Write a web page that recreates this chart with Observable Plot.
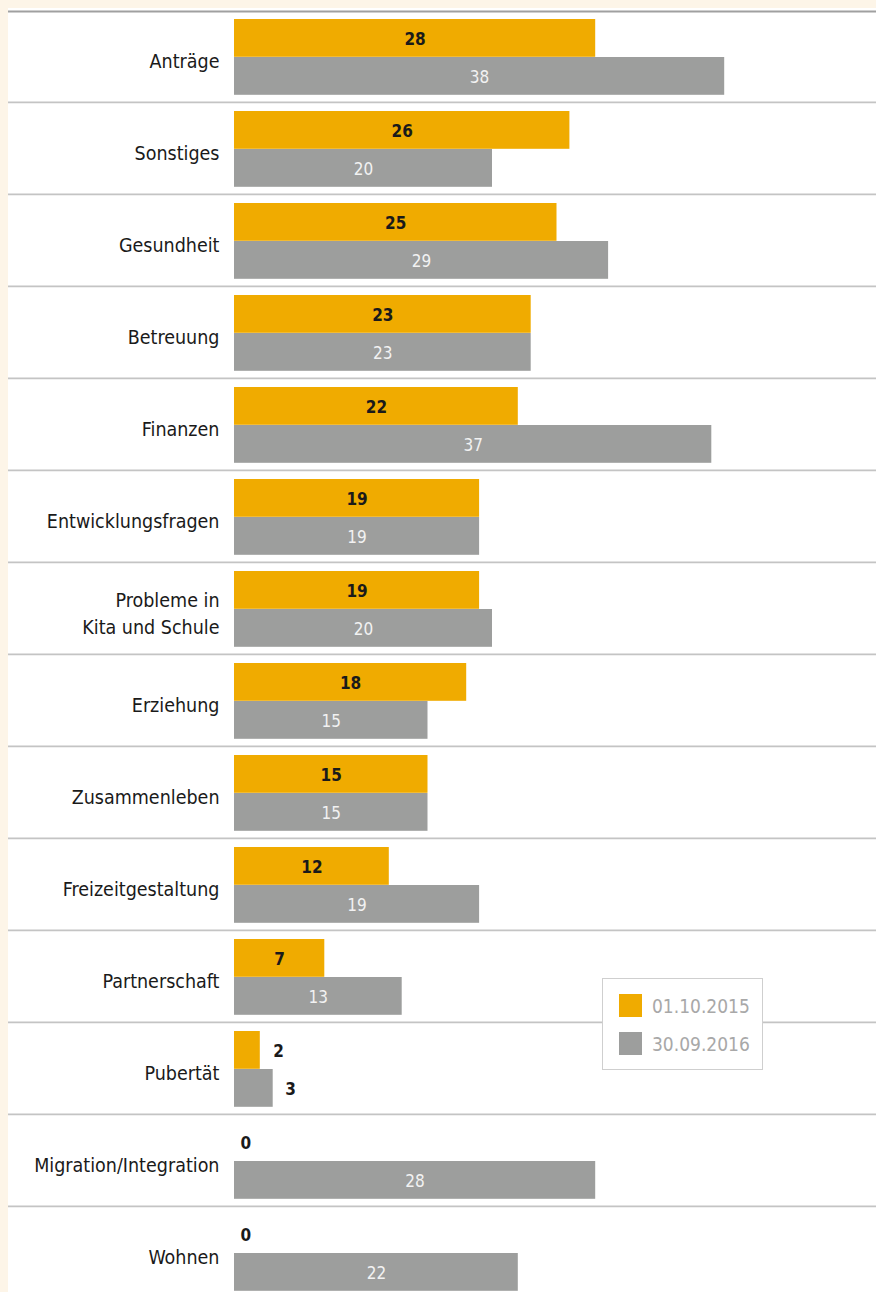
<!DOCTYPE html>
<html>
<head>
<meta charset="utf-8">
<script src="https://cdn.jsdelivr.net/npm/d3@7"></script>
<script src="https://cdn.jsdelivr.net/npm/@observablehq/plot@0.6"></script>
<style>
  html, body { margin: 0; padding: 0; background: #fdf5e8; overflow: hidden; width: 876px; height: 1292px; }
  #wrap { position: absolute; left: 8px; top: 8px; width: 868px; height: 1284px; background: #fff; overflow: hidden; }
  #legend { position: absolute; left: 594px; top: 970px; width: 159px; height: 90px; background: #fff; border: 1.5px solid #cfcfcf;
    font-family: "DejaVu Sans Condensed", sans-serif; font-stretch: condensed; font-size: 19px; color: #a8a8a8; }
  .item { position: absolute; left: 16px; height: 24px; line-height: 24px; white-space: nowrap; }
  .sw { display: inline-block; width: 23px; height: 23px; vertical-align: top; margin-right: 10px; }
</style>
</head>
<body>
<div id="wrap"></div>
<script>
const categories = ["Anträge", "Sonstiges", "Gesundheit", "Betreuung", "Finanzen", "Entwicklungsfragen",
  "Probleme in\nKita und Schule", "Erziehung", "Zusammenleben", "Freizeitgestaltung", "Partnerschaft",
  "Pubertät", "Migration/Integration", "Wohnen"];
const values2015 = [28, 26, 25, 23, 22, 19, 19, 18, 15, 12, 7, 2, 0, 0];
const values2016 = [38, 20, 29, 23, 37, 19, 20, 15, 15, 19, 13, 3, 28, 22];
const seriesLabels = ["01.10.2015", "30.09.2016"];
const colors = ["#f0ab00", "#9d9e9d"];

const d15 = categories.map((c, i) => ({cat: c, value: values2015[i]}));
const d16 = categories.map((c, i) => ({cat: c, value: values2016[i]}));

const font = '"DejaVu Sans Condensed", sans-serif';
const rowH = 92.2;
const W = 868, H = 1284;
const x0 = 226, k = 12.9;

const inside = 5;
const chart = Plot.plot({
  width: W, height: H,
  marginLeft: 0, marginRight: 0, marginTop: 0, marginBottom: 0,
  style: {fontFamily: font, fontStretch: "condensed", background: "#fff", overflow: "hidden"},
  x: {domain: [0, 50], range: [x0, x0 + 50 * k], axis: null},
  y: {domain: categories, range: [1, 1 + categories.length * rowH], padding: 0, axis: null},
  marks: [
    Plot.barX(d15, {x: "value", y: "cat", fill: colors[0], insetTop: 9, insetBottom: rowH - 9 - 38}),
    Plot.barX(d16, {x: "value", y: "cat", fill: colors[1], insetTop: 47, insetBottom: rowH - 47 - 38}),
    Plot.ruleY(categories.slice(1), {y: d => d, dy: -rowH / 2, stroke: "#c4c4c4", strokeWidth: 1.6}),
    Plot.ruleY(categories.slice(0, 1), {y: d => d, dy: -rowH / 2 + 1, stroke: "#a0a0a0", strokeWidth: 2}),
    Plot.text(categories, {y: d => d, text: d => d, frameAnchor: "left", dx: 211, textAnchor: "end",
      fontSize: 19.5, fill: "#1a1a1a", lineHeight: 1.4, dy: 3}),
    Plot.text(d15.filter(d => d.value >= inside), {x: d => d.value / 2, y: "cat", text: "value", dy: -18 + 1,
      fontSize: 17, fontWeight: "bold", fill: "#1a1a1a"}),
    Plot.text(d16.filter(d => d.value >= inside), {x: d => d.value / 2, y: "cat", text: "value", dy: 20 + 1,
      fontSize: 17, fill: "#f2f2f2"}),
    Plot.text(d15.filter(d => d.value < inside && d.value > 0), {x: "value", y: "cat", text: "value", dy: -18 + 1, dx: 13,
      textAnchor: "start", fontSize: 17, fontWeight: "bold", fill: "#1a1a1a"}),
    Plot.text(d16.filter(d => d.value < inside && d.value > 0), {x: "value", y: "cat", text: "value", dy: 20 + 1, dx: 12,
      textAnchor: "start", fontSize: 17, fontWeight: "bold", fill: "#1a1a1a"}),
    Plot.text(d15.filter(d => d.value === 0), {x: "value", y: "cat", text: "value", dy: -18 + 1, dx: 6,
      textAnchor: "start", fontSize: 17, fontWeight: "bold", fill: "#1a1a1a"})
  ]
});
const wrap = document.getElementById("wrap");
wrap.appendChild(chart);

const legend = document.createElement("div");
legend.id = "legend";
seriesLabels.forEach((s, i) => {
  const it = document.createElement("div");
  it.className = "item";
  it.style.top = (15 + i * 38) + "px";
  const sw = document.createElement("span");
  sw.className = "sw";
  sw.style.background = colors[i];
  it.appendChild(sw);
  it.appendChild(document.createTextNode(s));
  legend.appendChild(it);
});
wrap.appendChild(legend);
</script>
</body>
</html>
